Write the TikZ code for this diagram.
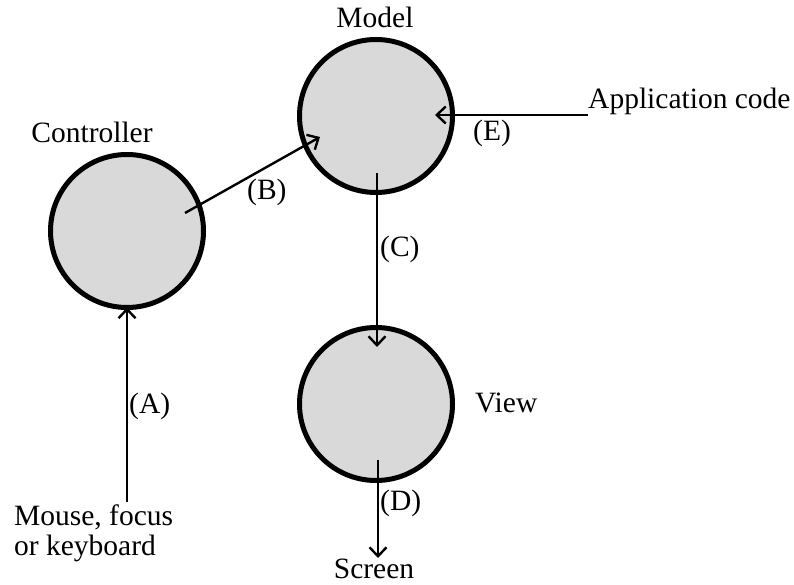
\documentclass[tikz,border=0pt]{standalone}
\usepackage{fontspec}
\setmainfont{Liberation Serif}
\usetikzlibrary{arrows.meta}
\begin{document}
\begin{tikzpicture}[x=1pt,y=-1pt,
  part/.style={circle,draw=black,fill=black!15,line width=5pt,minimum size=153pt,inner sep=0pt,outer sep=0pt},
  lbl/.style={inner sep=0pt,font=\fontsize{29.5}{30}\selectfont},
  flow/.style={line width=2.4pt,-{Straight Barb[length=9pt,width=17pt,line width=2.4pt]}}]
\useasboundingbox (0,0) rectangle (794,585);

% the three parts
\node[part] (ctrl)  at (127,231) {};
\node[part] (model) at (376,116) {};
\node[part] (view)  at (376,404) {};

% names of the parts and the outside actors
\node[lbl,anchor=base] (ctrllbl) at (92,143) {Controller};
\node[lbl,anchor=base] (modellbl) at (375,28) {Model};
\node[lbl,anchor=base west] (viewlbl) at (475,412) {View};
\node[lbl,anchor=base west] (app) at (588,109) {Application code};
\node[lbl,anchor=base] (screen) at (374,578) {Screen};
\node[lbl,anchor=north west,align=left] (input) at (14,505) {Mouse, focus\\or keyboard};

% connector end points
\coordinate (astart) at (127,502);
\coordinate (bstart) at (185,213);
\coordinate (bend)   at (320,137);
\coordinate (cstart) at (377,173);
\coordinate (cend)   at (377,347);
\coordinate (dstart) at (378,460);
\coordinate (dend)   at (378,558);
\coordinate (estart) at (588,115);
\coordinate (eend)   at (435,115);

% connectors
\draw[flow] (astart) -- (ctrl.south);
\draw[flow] (bstart) -- (bend);
\draw[flow] (cstart) -- (cend);
\draw[flow] (dstart) -- (dend);
\draw[flow] (estart) -- (eend);

% connector labels
\node[lbl,anchor=base west] (la) at (129,413) {(A)};
\node[lbl,anchor=base west] (lb) at (247,200) {(B)};
\node[lbl,anchor=base west] (lc) at (380,256) {(C)};
\node[lbl,anchor=base west] (ld) at (380,510) {(D)};
\node[lbl,anchor=base west] (le) at (473,141) {(E)};
\end{tikzpicture}
\end{document}
